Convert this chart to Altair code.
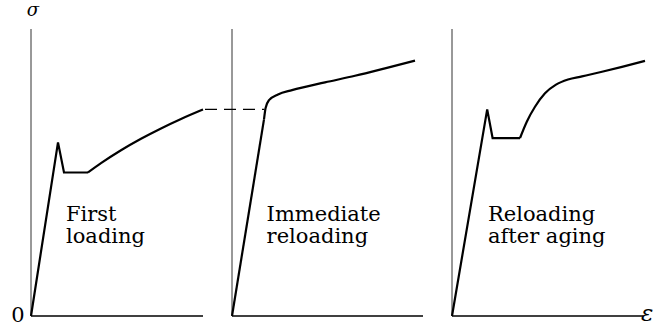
import altair as alt
import pandas as pd

# Stress-strain curves of a mild steel: first loading, immediate reloading,
# and reloading after strain aging.  Stress in % of the axis height, strain
# in arbitrary units measured from each diagram's own origin.

# First loading: elastic line, upper yield point, Lüders plateau ...
first_eps_el = [0.0, 1.35, 1.65, 2.85]
first_sig_el = [0.0, 60.5, 50.0, 50.0]
# ... followed by strain hardening
first_eps_hd = [2.85, 3.5, 4.5, 5.5, 6.5, 7.5, 8.6]
first_sig_hd = [50.0, 53.25, 57.75, 61.75, 65.35, 68.65, 71.95]

# Immediate reloading: no yield point, hardening resumes at the unload stress
immed_eps_el = [0.0, 1.6]
immed_sig_el = [0.0, 68.5]
immed_eps_hd = [1.6, 1.68, 1.85, 2.3, 3.0, 4.65, 6.15, 7.65, 9.15]
immed_sig_hd = [68.5, 72.5, 75.2, 77.2, 78.7, 81.4, 83.7, 86.3, 89.0]

# Reloading after aging: the yield point returns at a higher stress
aged_eps_el = [0.0, 1.76, 2.03, 3.4]
aged_sig_el = [0.0, 72.0, 62.0, 62.0]
aged_eps_hd = [3.4, 3.74, 4.15, 4.65, 5.2, 5.8, 6.5, 7.5, 8.5, 9.65]
aged_sig_hd = [62.0, 67.7, 72.9, 77.6, 80.6, 82.4, 83.5, 85.1, 86.8, 88.9]

# Unloading stress carried over from the first loading to the reloading
carry_eps = [-1.35, 1.62]
carry_sig = [72.0, 72.0]

labels = [["First", "loading"], ["Immediate", "reloading"],
          ["Reloading", "after aging"]]
label_eps = [1.75, 1.73, 1.8]
label_sig = [33.1, 25.4]

# each diagram's strain axis: where it starts on the shared strip, its length
panel_start = [0.0, 10.05, 21.05]
panel_len = [8.6, 9.55, 9.55]
sig_max = 100.0
total_eps = panel_start[-1] + panel_len[-1]

FONT = "DejaVu Serif"


def curve_rows(panel, seg, eps, sig):
    return pd.DataFrame({"seg": f"{panel}-{seg}",
                         "x": [e + panel_start[panel] for e in eps],
                         "sig": sig})


linear_df = pd.concat([
    curve_rows(0, "el", first_eps_el, first_sig_el),
    curve_rows(1, "el", immed_eps_el, immed_sig_el),
    curve_rows(2, "el", aged_eps_el, aged_sig_el),
], ignore_index=True)
hard_df = pd.concat([
    curve_rows(0, "hd", first_eps_hd, first_sig_hd),
    curve_rows(1, "hd", immed_eps_hd, immed_sig_hd),
    curve_rows(2, "hd", aged_eps_hd, aged_sig_hd),
], ignore_index=True)
carry_df = curve_rows(1, "carry", carry_eps, carry_sig)

axes_df = pd.DataFrame({
    "x": panel_start,
    "x2": [s + n for s, n in zip(panel_start, panel_len)],
    "sig": [0.0] * 3,
    "sig2": [sig_max] * 3,
})

label_rows = []
for p, lines in enumerate(labels):
    for k, t in enumerate(lines):
        label_rows.append({"x": panel_start[p] + label_eps[p],
                           "sig": label_sig[k], "t": t})
label_df = pd.DataFrame(label_rows)

xs = alt.Scale(domain=[0, total_eps], nice=False, zero=False)
ys = alt.Scale(domain=[0, sig_max], nice=False, zero=False)
X = alt.X("x:Q", scale=xs, axis=None)
Y = alt.Y("sig:Q", scale=ys, axis=None)

base_axes = alt.Chart(axes_df)
v_axes = base_axes.mark_rule(color="#333", strokeWidth=1).encode(
    x=X, y=Y, y2="sig2:Q")
h_axes = base_axes.mark_rule(color="black", strokeWidth=1.4).encode(
    x=X, x2="x2:Q", y=Y)

line_style = dict(color="black", strokeWidth=2.2, strokeJoin="miter",
                  strokeCap="butt")
elastic = alt.Chart(linear_df).mark_line(interpolate="linear",
                                         **line_style).encode(
    x=X, y=Y, detail="seg:N", order=alt.Order("x:Q"))
hardening = alt.Chart(hard_df).mark_line(interpolate="monotone",
                                         **line_style).encode(
    x=X, y=Y, detail="seg:N", order=alt.Order("x:Q"))
carry = alt.Chart(carry_df).mark_line(color="black", strokeWidth=1.2,
                                      strokeDash=[12, 7]).encode(x=X, y=Y)

texts = alt.Chart(label_df).mark_text(
    font=FONT, fontSize=21, align="left", baseline="alphabetic",
    color="black").encode(x=X, y=Y, text="t:N")

# axis symbols: σ above the stress axis, ε at the end of the strain strip
sigma_df = pd.DataFrame({"x": [0.1], "sig": [104.6], "t": ["σ"]})
sigma = alt.Chart(sigma_df).mark_text(
    font=FONT, fontSize=18, fontStyle="italic", align="center",
    baseline="alphabetic", color="black").encode(x=X, y=Y, text="t:N")

eps_df = pd.DataFrame({"x": [total_eps - 0.1], "sig": [-1.9], "t": ["ε"]})
eps_sym = alt.Chart(eps_df).mark_text(
    font=FONT, fontSize=23, fontStyle="italic", align="left",
    baseline="alphabetic", color="black").encode(x=X, y=Y, text="t:N")

origin_df = pd.DataFrame({"x": [-0.65], "sig": [-2.1], "t": ["0"]})
origin = alt.Chart(origin_df).mark_text(
    font=FONT, fontSize=21, align="center", baseline="alphabetic",
    color="black").encode(x=X, y=Y, text="t:N")

chart = alt.layer(v_axes, h_axes, carry, elastic, hardening, texts,
                  sigma, eps_sym, origin).properties(
    width=total_eps * 20, height=287,
    padding={"left": 31, "top": 29, "right": 16, "bottom": 11},
    autosize=alt.AutoSizeParams(type="none"),
    background="white",
).configure_view(stroke=None)

chart.save("out.html", embed_options={"renderer": "svg", "actions": False})
